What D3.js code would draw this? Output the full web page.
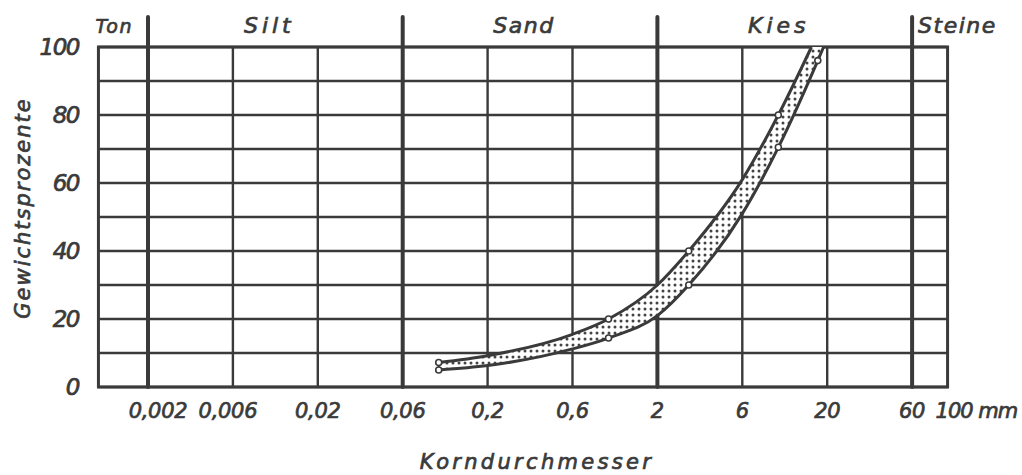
<!DOCTYPE html>
<html>
<head>
<meta charset="utf-8">
<script src="https://cdn.jsdelivr.net/npm/d3@7"></script>
<style>
  body { margin: 0; background: #fff; }
  text { font-family: "DejaVu Sans", sans-serif; font-style: oblique; font-weight: normal; fill: #3a3a3a; stroke: #3a3a3a; stroke-width: 0.7px; }
</style>
</head>
<body>
<svg id="chart"></svg>
<script>
// grain size classes (upper bound in mm)
var classes = ["Ton", "Silt", "Sand", "Kies", "Steine"]
var classBounds = [0.002, 0.06, 2, 60]

// x ticks in mm, labels as printed
var xTicks = [0.002, 0.006, 0.02, 0.06, 0.2, 0.6, 2, 6, 20, 60]
var xTickLabels = ["0,002", "0,006", "0,02", "0,06", "0,2", "0,6", "2", "6", "20", "60"]
var yTicks = [0, 20, 40, 60, 80, 100]

// upper curve (fine side) of the grading band
var upperSize = [0.1, 0.2, 0.6, 1, 2, 3, 6, 10, 16]
var upperPct  = [7.2, 9.2, 15.5, 20, 30, 40, 61, 80, 100]
var upperMarks = [0.1, 1, 3, 10]

// lower curve (coarse side)
var lowerSize = [0.1, 0.2, 0.6, 1, 2, 3, 6, 10, 17.5, 19]
var lowerPct  = [5, 6.3, 11.2, 14.4, 21, 30, 51, 70.5, 96, 100]
var lowerMarks = [0.1, 1, 3, 10, 17.5]

var width = 1022
var height = 475
var ink = "#3a3a3a"

var svg = d3.select("#chart")
  .attr("width", width)
  .attr("height", height)

// each printed tick step is drawn with the same width
var x0 = 148, step = 84.9
var xScale = d3.scaleLog()
  .domain(xTicks)
  .range(xTicks.map((d, i) => x0 + i * step))

var yScale = d3.scaleLinear()
  .domain([0, 100])
  .range([387, 47])

var left = xScale(0.001) + 4
var right = xScale(100) - 4

// stipple pattern for the band
var pat = svg.append("defs").append("pattern")
  .attr("id", "dots")
  .attr("width", 6)
  .attr("height", 6)
  .attr("patternUnits", "userSpaceOnUse")
pat.append("rect").attr("width", 6).attr("height", 6).attr("fill", "#fff")
pat.append("circle").attr("cx", 3).attr("cy", 3).attr("r", 1.5).attr("fill", "#444")

// horizontal grid
svg.append("g")
  .selectAll("line")
  .data(d3.range(0, 101, 10))
  .enter().append("line")
  .attr("x1", left)
  .attr("x2", right)
  .attr("y1", d => yScale(d))
  .attr("y2", d => yScale(d))
  .attr("stroke", ink)
  .attr("stroke-width", 2.4)

// thin vertical lines
svg.append("g")
  .selectAll("line")
  .data(xTicks.filter(d => classBounds.indexOf(d) < 0))
  .enter().append("line")
  .attr("x1", d => xScale(d))
  .attr("x2", d => xScale(d))
  .attr("y1", yScale(100))
  .attr("y2", yScale(0))
  .attr("stroke", ink)
  .attr("stroke-width", 2.4)

// class boundaries, reaching up to the class names
svg.append("g")
  .selectAll("line")
  .data(classBounds)
  .enter().append("line")
  .attr("x1", d => xScale(d))
  .attr("x2", d => xScale(d))
  .attr("y1", 17)
  .attr("y2", yScale(0))
  .attr("stroke", ink)
  .attr("stroke-width", 4)
  .attr("stroke-linecap", "round")

// frame
svg.append("rect")
  .attr("x", left)
  .attr("y", yScale(100))
  .attr("width", right - left)
  .attr("height", yScale(0) - yScale(100))
  .attr("fill", "none")
  .attr("stroke", ink)
  .attr("stroke-width", 3)

// grading band
var line = d3.line()
  .x(d => xScale(d[0]))
  .y(d => yScale(d[1]))
  .curve(d3.curveMonotoneX)

var upper = upperSize.map((d, i) => [d, upperPct[i]])
var lower = lowerSize.map((d, i) => [d, lowerPct[i]])

var bandPath = line(upper) + line(lower.slice().reverse()).replace(/^M/, "L") + "Z"
svg.append("path")
  .attr("d", bandPath)
  .attr("fill", "url(#dots)")
  .attr("stroke", "none")

svg.append("path")
  .attr("d", line(upper))
  .attr("fill", "none")
  .attr("stroke", ink)
  .attr("stroke-width", 3)

svg.append("path")
  .attr("d", line(lower))
  .attr("fill", "none")
  .attr("stroke", ink)
  .attr("stroke-width", 3)

// start of the band is closed off
svg.append("line")
  .attr("x1", xScale(upperSize[0]))
  .attr("x2", xScale(lowerSize[0]))
  .attr("y1", yScale(upperPct[0]))
  .attr("y2", yScale(lowerPct[0]))
  .attr("stroke", ink)
  .attr("stroke-width", 2)

var marks = upperMarks.map(s => [s, upperPct[upperSize.indexOf(s)]])
  .concat(lowerMarks.map(s => [s, lowerPct[lowerSize.indexOf(s)]]))
svg.append("g")
  .selectAll("circle")
  .data(marks)
  .enter().append("circle")
  .attr("cx", d => xScale(d[0]))
  .attr("cy", d => yScale(d[1]))
  .attr("r", 3)
  .attr("fill", "#fff")
  .attr("stroke", ink)
  .attr("stroke-width", 1.6)

// class names on top
var classEdges = [0.001].concat(classBounds, [100])
svg.append("g")
  .selectAll("text")
  .data(classes)
  .enter().append("text")
  .attr("x", (d, i) => {
    if (i == 0) return xScale(classEdges[1]) - 15
    if (i == classes.length - 1) return xScale(classEdges[i]) + 6
    return (xScale(classEdges[i]) + xScale(classEdges[i + 1])) / 2 - 6
  })
  .attr("y", 33)
  .attr("text-anchor", (d, i) => i == 0 ? "end" : (i == classes.length - 1 ? "start" : "middle"))
  .attr("font-size", (d, i) => i == 0 ? 19 : 22)
  .attr("letter-spacing", (d, i) => (i == 1 || i == 3) ? 4 : 1.5)
  .text(d => d)

// y tick labels
svg.append("g")
  .selectAll("text")
  .data(yTicks)
  .enter().append("text")
  .attr("x", 79)
  .attr("y", d => yScale(d))
  .attr("dy", "0.36em")
  .attr("text-anchor", "end")
  .attr("font-size", 23)
  .attr("letter-spacing", -1.5)
  .text(d => d)

// x tick labels
svg.append("g")
  .selectAll("text")
  .data(xTicks)
  .enter().append("text")
  .attr("x", (d, i) => xScale(d) + (i == 0 ? 10 : (i == 1 ? -5 : 0)))
  .attr("y", 418)
  .attr("text-anchor", "middle")
  .attr("font-size", 21)
  .attr("letter-spacing", -0.3)
  .text((d, i) => xTickLabels[i])

svg.append("text")
  .attr("x", xScale(100) - 16)
  .attr("y", 418)
  .attr("text-anchor", "start")
  .attr("font-size", 21)
  .attr("letter-spacing", -1)
  .text("100 mm")

// axis titles
svg.append("text")
  .attr("x", 537)
  .attr("y", 469)
  .attr("text-anchor", "middle")
  .attr("font-size", 21)
  .attr("letter-spacing", 3.3)
  .text("Korndurchmesser")

svg.append("text")
  .attr("transform", "translate(30,208) rotate(-90)")
  .attr("text-anchor", "middle")
  .attr("font-size", 21)
  .attr("letter-spacing", 2)
  .text("Gewichtsprozente")
</script>
</body>
</html>
